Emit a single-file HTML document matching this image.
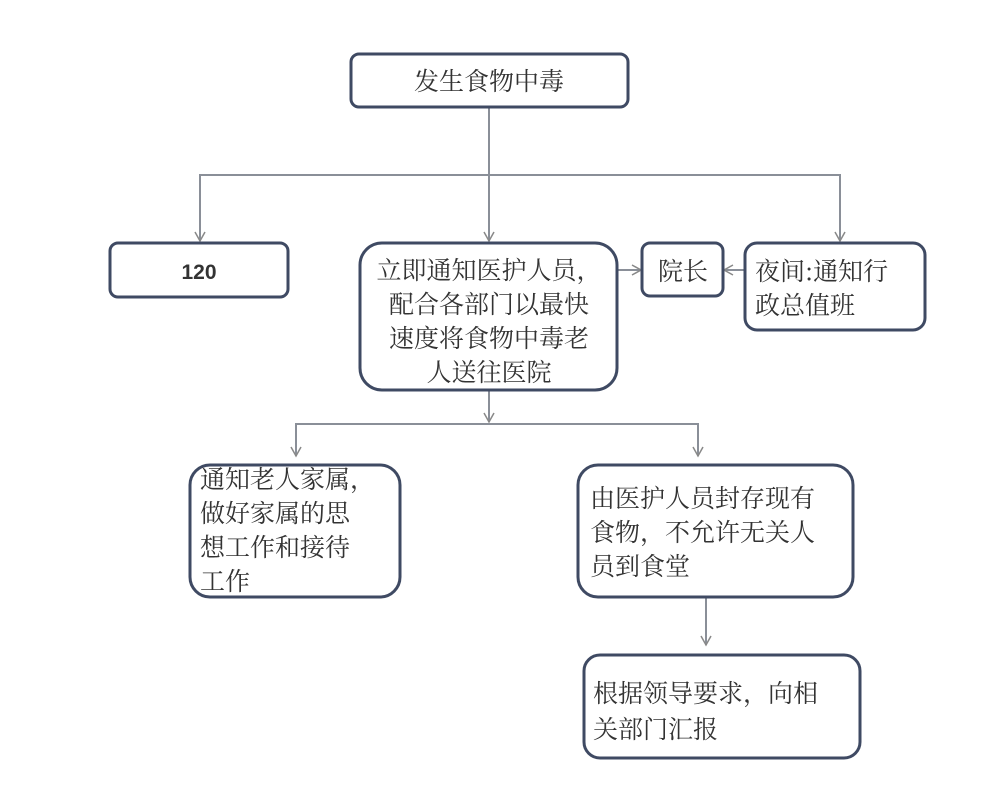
<!DOCTYPE html>
<html><head><meta charset="utf-8"><style>
html,body{margin:0;padding:0;background:#fff;}
svg{display:block;}
text{font-family:"Noto Serif CJK SC","Liberation Serif",serif;font-size:25px;fill:#333;}
</style></head><body>
<svg width="1000" height="805" xmlns="http://www.w3.org/2000/svg">
<defs><marker id="a" markerWidth="12" markerHeight="12" refX="10" refY="6" orient="auto" markerUnits="userSpaceOnUse"><path d="M1,1 L10,6 L1,11" fill="none" stroke="#888" stroke-width="1.5"/></marker></defs>
<g fill="none" stroke="#8a8f98" stroke-width="2">
<line x1="489" y1="107" x2="489" y2="241" marker-end="url(#a)"/>
<polyline points="200,241 200,175 840,175 840,241" marker-end="url(#a)"/>
<line x1="200" y1="175" x2="200" y2="241" marker-end="url(#a)"/>
<line x1="617" y1="270" x2="641" y2="270" marker-end="url(#a)"/>
<line x1="745" y1="270" x2="724" y2="270" marker-end="url(#a)"/>
<line x1="489" y1="390" x2="489" y2="422" marker-end="url(#a)"/>
<polyline points="296,456 296,424 698,424 698,456" marker-end="url(#a)"/>
<line x1="296" y1="424" x2="296" y2="456" marker-end="url(#a)"/>
<line x1="706" y1="597" x2="706" y2="645" marker-end="url(#a)"/>
</g>
<g fill="#fff" stroke="#3f4a63" stroke-width="3">
<rect x="351" y="54" width="277" height="53" rx="8"/>
<rect x="110" y="243" width="178" height="54" rx="8"/>
<rect x="360" y="243" width="257" height="147" rx="22"/>
<rect x="642" y="243" width="81" height="53" rx="8"/>
<rect x="745" y="243" width="180" height="87" rx="12"/>
<rect x="190" y="465" width="210" height="132" rx="20"/>
<rect x="578" y="465" width="275" height="132" rx="20"/>
<rect x="584" y="655" width="276" height="103" rx="16"/>
</g>
<text x="489" y="90" text-anchor="middle" font-size="26">发生食物中毒</text>
<text x="199" y="279" text-anchor="middle" style="font-family:'Liberation Sans',sans-serif;font-size:21px;font-weight:bold">120</text>
<text x="489" y="279" text-anchor="middle">立即通知医护人员，</text>
<text x="489" y="313" text-anchor="middle">配合各部门以最快</text>
<text x="489" y="347" text-anchor="middle">速度将食物中毒老</text>
<text x="489" y="381" text-anchor="middle">人送往医院</text>
<text x="683" y="280" text-anchor="middle">院长</text>
<text x="755" y="280">夜间:通知行</text>
<text x="755" y="314">政总值班</text>
<text x="200" y="488">通知老人家属，</text>
<text x="200" y="522">做好家属的思</text>
<text x="200" y="556">想工作和接待</text>
<text x="200" y="590">工作</text>
<text x="590" y="507">由医护人员封存现有</text>
<text x="590" y="541">食物，不允许无关人</text>
<text x="590" y="575">员到食堂</text>
<text x="593" y="702">根据领导要求，向相</text>
<text x="593" y="738">关部门汇报</text>
</svg>
</body></html>
